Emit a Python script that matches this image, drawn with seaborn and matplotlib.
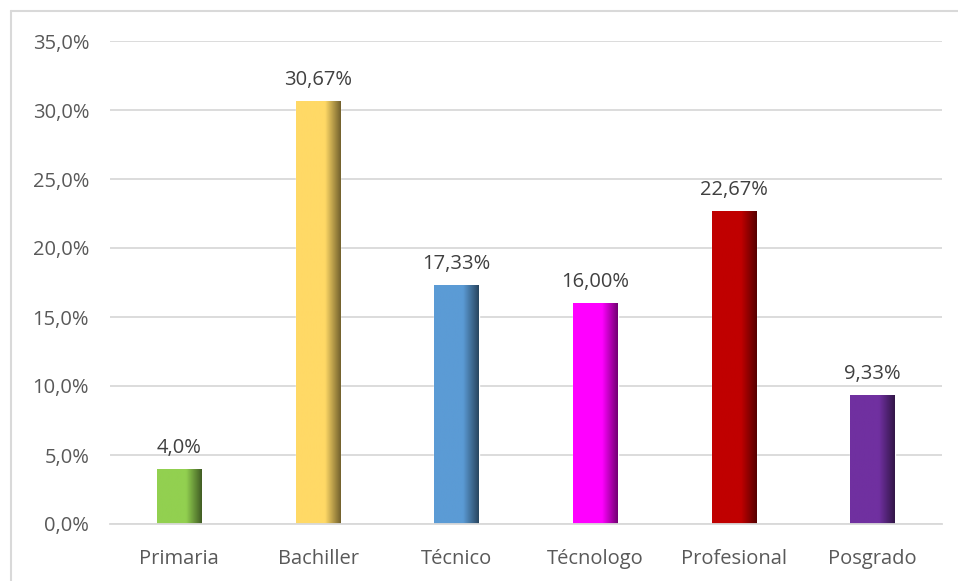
import numpy as np
import pandas as pd
import matplotlib
matplotlib.use("Agg")
from matplotlib import pyplot as plt
from matplotlib.colors import LinearSegmentedColormap, to_rgb
from matplotlib.lines import Line2D
import seaborn as sns

# Datos del gráfico
categorias = ["Primaria", "Bachiller", "Técnico", "Técnologo", "Profesional", "Posgrado"]
valores = [4.0, 30.67, 17.33, 16.00, 22.67, 9.33]
etiquetas = ["4,0%", "30,67%", "17,33%", "16,00%", "22,67%", "9,33%"]
colores = ["#92D050", "#FFD966", "#5B9BD5", "#FF00FF", "#C00000", "#7030A0"]
ticks_y = [0, 5, 10, 15, 20, 25, 30, 35]
ticks_y_txt = ["0,0%", "5,0%", "10,0%", "15,0%", "20,0%", "25,0%", "30,0%", "35,0%"]

sns.set_theme(style="white")
plt.rcParams['font.family'] = ['Open Sans', 'DejaVu Sans']

gris = "#595959"
linea = "#D9D9D9"

df = pd.DataFrame({"cat": categorias, "val": valores})

fig = plt.figure(figsize=(9.58, 5.81), dpi=100)
ax = fig.add_axes([110 / 958, 57 / 581, 832 / 958, 483 / 581])

sns.barplot(data=df, x="cat", y="val", hue="cat", palette=colores,
            width=0.32, legend=False, ax=ax, saturation=1)

# Sombreado tipo Excel: el borde derecho de cada barra más oscuro
for patch, col in zip(ax.patches, colores):
    r, g, b = to_rgb(col)
    oscuro = (r * 0.45, g * 0.45, b * 0.45)
    cmap = LinearSegmentedColormap.from_list(
        "g", [(0.0, col), (0.65, col), (1.0, oscuro)])
    x0, y0 = patch.get_x(), patch.get_y()
    w, h = patch.get_width(), patch.get_height()
    grad = np.linspace(0, 1, 100).reshape(1, -1)
    im = ax.imshow(grad, cmap=cmap, aspect="auto", extent=[x0, x0 + w, y0, y0 + h],
                   zorder=patch.get_zorder() + 0.1)
    im.set_clip_path(patch)

for i, (v, t) in enumerate(zip(valores, etiquetas)):
    ax.annotate(t, (i, v), xytext=(0, 8), textcoords="offset points",
                ha="center", va="bottom", fontsize=14.5, color="#404040")

ax.set_xlim(-0.5, len(categorias) - 0.5)
ax.set_ylim(0, 35)
ax.set_yticks(ticks_y)
ax.set_yticklabels(ticks_y_txt)
ax.set_xlabel("")
ax.set_ylabel("")
ax.yaxis.grid(True, color=linea, linewidth=1.3)
ax.set_axisbelow(True)
for s in ["left", "right", "top"]:
    ax.spines[s].set_visible(False)
ax.spines["bottom"].set_color(linea)
ax.spines["bottom"].set_linewidth(1.3)
ax.tick_params(axis="both", length=0, labelsize=14.5, labelcolor=gris)
ax.tick_params(axis="y", pad=15)
ax.tick_params(axis="x", pad=18)

# Marco del gráfico
fig.add_artist(Line2D([10.5 / 958, 10.5 / 958], [0, 1 - 10.5 / 581], color=linea, lw=1.5))
fig.add_artist(Line2D([10.5 / 958, 1], [1 - 10.5 / 581, 1 - 10.5 / 581], color=linea, lw=1.5))

fig.savefig("out.png", dpi=100)
